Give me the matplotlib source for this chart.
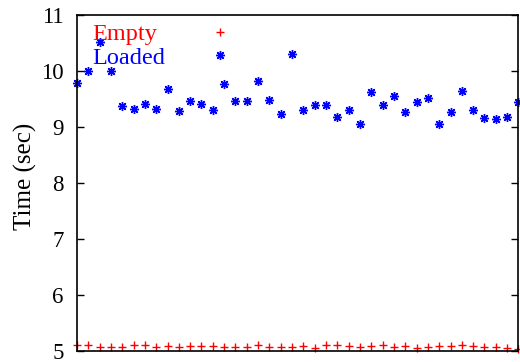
import matplotlib
matplotlib.use("Agg")
import matplotlib.pyplot as plt

runs = list(range(40))
empty = [5.107, 5.11, 5.077, 5.077, 5.065, 5.10, 5.10, 5.065, 5.09, 5.07,
         5.09, 5.095, 5.085, 5.065, 5.077, 5.07, 5.107, 5.07, 5.07, 5.065,
         5.09, 5.06, 5.107, 5.10, 5.095, 5.077, 5.095, 5.10, 5.077, 5.095,
         5.06, 5.077, 5.085, 5.09, 5.107, 5.095, 5.077, 5.07, 5.055, 5.04]
loaded = [9.79, 10.0, 10.51, 10.0, 9.37, 9.33, 9.41, 9.33, 9.67, 9.29,
          9.46, 9.41, 9.31, 9.76, 9.46, 9.47, 9.82, 9.48, 9.24, 10.30,
          9.30, 9.39, 9.39, 9.17, 9.31, 9.05, 9.62, 9.40, 9.55, 9.26,
          9.44, 9.52, 9.05, 9.27, 9.64, 9.31, 9.16, 9.15, 9.17, 9.44]
yticks = [5, 6, 7, 8, 9, 10, 11]

plt.rcParams['font.family'] = ['Liberation Serif', 'DejaVu Serif']

fig = plt.figure(figsize=(5.2, 3.62), dpi=100)
ax = fig.add_axes([0.148, 0.0304, 0.849, 0.9282])

ax.plot(runs, empty, linestyle='none', marker='+', color='red',
        markersize=5.5, markeredgewidth=1.0, clip_on=False, label='Empty')
ax.plot(runs, loaded, linestyle='none', marker=(8, 2, 0), color='blue',
        markersize=6.5, markeredgewidth=1.0, clip_on=False, label='Loaded')

ax.set_xlim(0, 39)
ax.set_ylim(5, 11)
ax.set_yticks(yticks)
ax.set_xticks([])
ax.tick_params(axis='y', direction='in', length=5, width=1, left=True,
               right=True, labelsize=16.5, pad=9.5)
for s in ax.spines.values():
    s.set_linewidth(1.2)
ax.set_ylabel('Time (sec)', fontsize=18, labelpad=3)
ax.yaxis.label.set_y(0.521)

leg = ax.legend(loc='upper left', bbox_to_anchor=(0.0336, 0.976),
                frameon=False, markerfirst=False,
                fontsize=17.5, handlelength=1.0, handletextpad=1.95,
                labelspacing=0.07, borderaxespad=0.0, borderpad=0.0,
                labelcolor='linecolor')
# left-align the key texts, keep the samples in one column on the right
for col in leg._legend_handle_box.get_children():
    for item in col.get_children():
        item.mode = 'expand'
        item.width = 140

fig.savefig('out.png', dpi=100)
